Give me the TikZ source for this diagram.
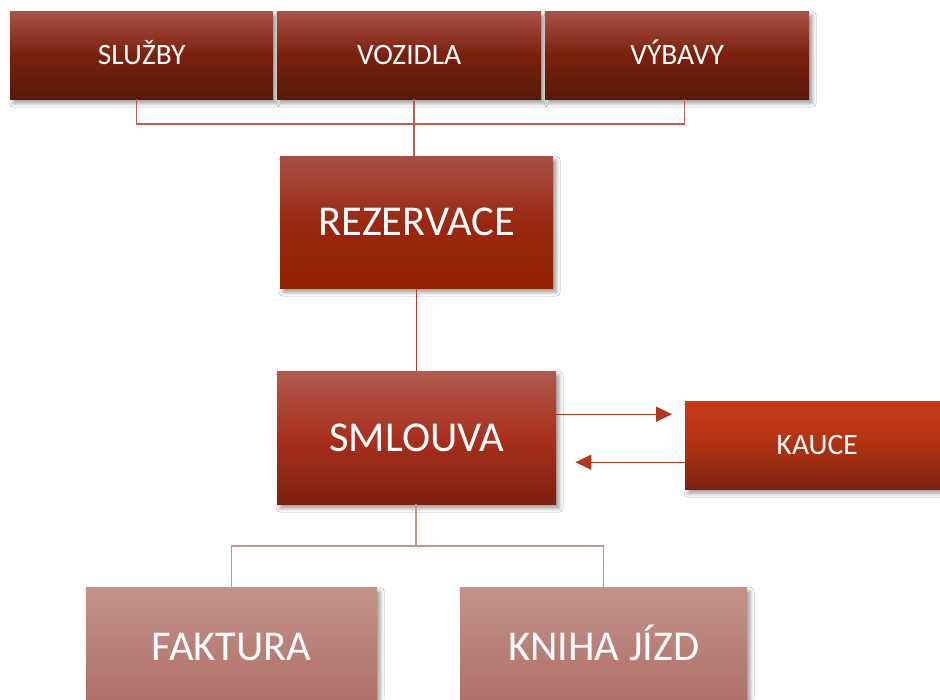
\documentclass[tikz,border=0pt]{standalone}
\usepackage{fontspec}
\setmainfont{Carlito}
\usetikzlibrary{arrows.meta,shadows.blur}
\definecolor{tTop}{HTML}{AA5248}
\definecolor{tMid}{HTML}{7A200C}
\definecolor{tBot}{HTML}{58180A}
\definecolor{rTop}{HTML}{A85045}
\definecolor{rMid}{HTML}{9A2810}
\definecolor{rBot}{HTML}{922000}
\definecolor{sTop}{HTML}{B05A4E}
\definecolor{sMid}{HTML}{A8301C}
\definecolor{sBot}{HTML}{7E2010}
\definecolor{kTop}{HTML}{C83A16}
\definecolor{kMid}{HTML}{B03212}
\definecolor{kBot}{HTML}{7C2210}
\definecolor{bTop}{HTML}{C4928A}
\definecolor{bBot}{HTML}{AE6E66}
\definecolor{cTop}{HTML}{C0604A}
\definecolor{cMid}{HTML}{B04030}
\definecolor{cArr}{HTML}{B03820}
\definecolor{cBot}{HTML}{C49590}
\begin{document}
\begin{tikzpicture}[x=1pt,y=1pt,
  box/.style={rectangle, inner sep=0pt, text=white, anchor=north west,
    blur shadow={shadow xshift=3pt, shadow yshift=-4pt, shadow blur radius=4pt, shadow opacity=40}},
  smallfont/.style={font=\fontsize{29.5}{32}\selectfont, text height=19pt, text depth=0pt},
  bigfont/.style={font=\fontsize{42.5}{46}\selectfont, text height=27.4pt, text depth=0pt},
  topbox/.style={box, smallfont, minimum height=88pt, top color=tTop, bottom color=tBot, middle color=tMid},
  rezbox/.style={box, bigfont, top color=rTop, bottom color=rBot, middle color=rMid},
  smlbox/.style={box, bigfont, top color=sTop, bottom color=sBot, middle color=sMid},
  kaubox/.style={box, smallfont, top color=kTop, bottom color=kBot, middle color=kMid},
  botbox/.style={box, bigfont, top color=bTop, bottom color=bBot},
  conntop/.style={draw=cTop, line width=1.4pt},
  connmid/.style={draw=cMid, line width=1.4pt},
  connbot/.style={draw=cBot, line width=1.4pt},
  arr/.style={draw=cArr, line width=1.4pt, -{Triangle[length=16pt,width=15pt]}},
]
\useasboundingbox (0,0) rectangle (940,-699);
\fill[white] (0,0) rectangle (940,-699);

\node[topbox, minimum width=263pt] (sluzby) at (10,-11) {SLUŽBY};
\node[topbox, minimum width=264pt] (vozidla) at (277,-11) {VOZIDLA};
\node[topbox, minimum width=264pt] (vybavy) at (545,-11) {VÝBAVY};

\node[rezbox, minimum width=273pt, minimum height=132pt] (rez) at (280,-156) {REZERVACE};
\node[smlbox, minimum width=279pt, minimum height=133pt] (sml) at (277,-371) {SMLOUVA};
\node[kaubox, minimum width=264pt, minimum height=88pt] (kauce) at (685,-401) {KAUCE};

\node[botbox, minimum width=291pt, minimum height=120pt] (faktura) at (86,-587) {FAKTURA};
\node[botbox, minimum width=287pt, minimum height=120pt] (kniha) at (460,-587) {KNIHA JÍZD};

% top connectors
\coordinate (jt) at (414,-124);
\draw[conntop] ([xshift=-5.5pt]sluzby.south) |- (jt) -| ([xshift=7.5pt]vybavy.south);
\draw[conntop] (vozidla.south -| jt) -- (rez.north -| jt);

% rezervace - smlouva
\draw[connmid] (rez.south) -- (sml.north);

% smlouva <-> kauce
\draw[arr, shorten >=13pt] ([yshift=23.5pt]sml.east) -- ([yshift=23.5pt]sml.east -| kauce.west);
\draw[arr, shorten >=19pt] ([yshift=-24.5pt]sml.east -| kauce.west) -- ([yshift=-24.5pt]sml.east);

% bottom connectors
\coordinate (jb) at (416,-546);
\draw[connbot] (sml.south -| jb) -- (jb);
\draw[connbot] (faktura.north) |- (jb) -| (kniha.north);
\end{tikzpicture}
\end{document}
